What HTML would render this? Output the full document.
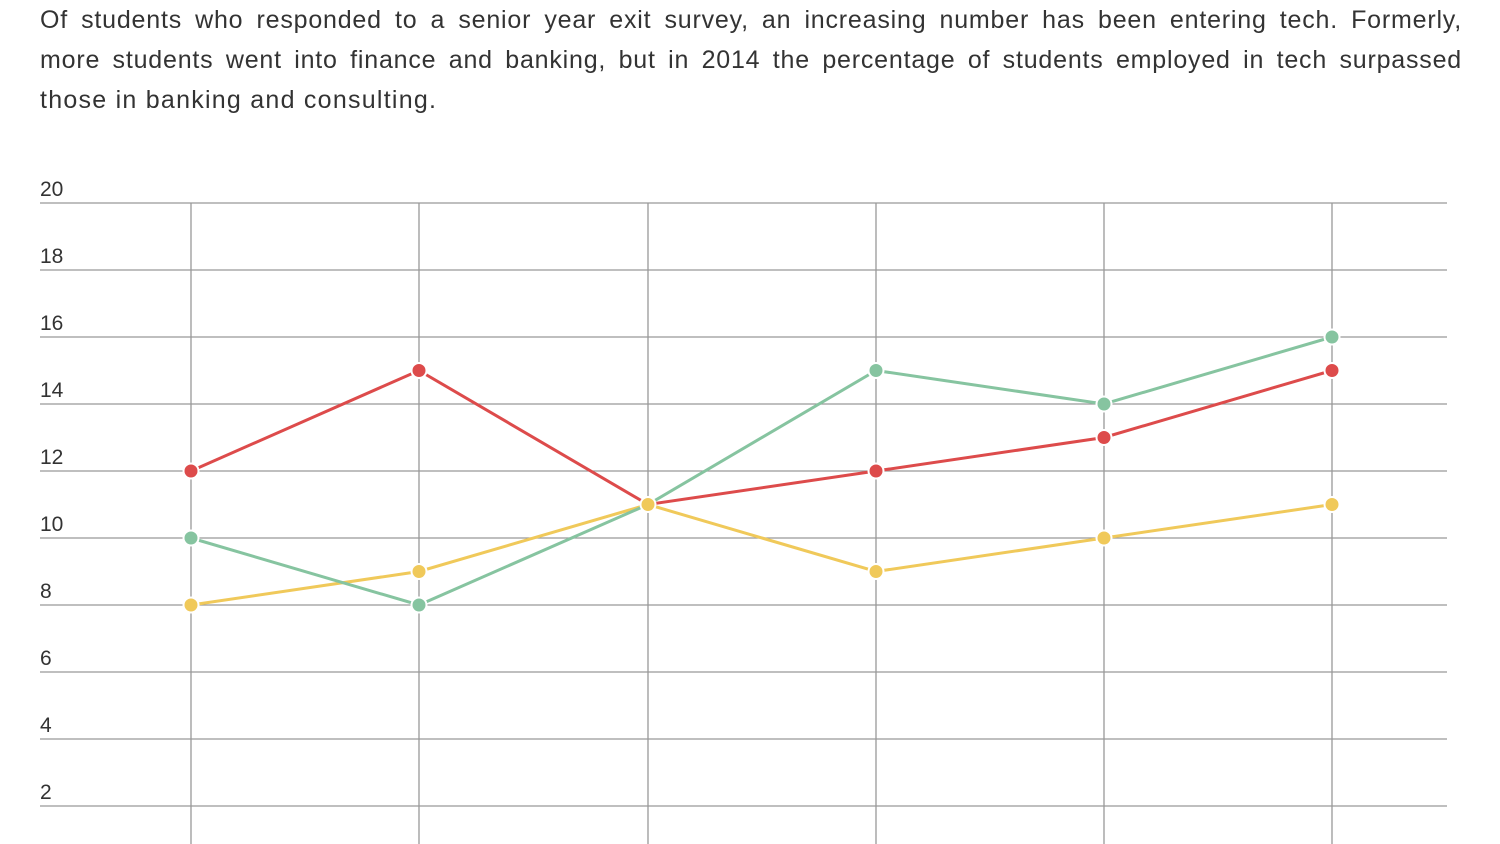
<!DOCTYPE html>
<html><head><style>
body{margin:0;background:#fff;width:1500px;height:844px;overflow:hidden;font-family:"Liberation Sans",sans-serif;}
.t{position:absolute;left:40px;width:1422px;margin:0;font-size:25px;line-height:40px;color:#333;letter-spacing:0.8px;white-space:nowrap}
.j{text-align:justify;text-align-last:justify;white-space:normal}
svg{position:absolute;left:0;top:0}
</style></head><body>
<div class="t j" style="top:0">Of students who responded to a senior year exit survey, an increasing number has been entering tech. Formerly,</div>
<div class="t j" style="top:40px">more students went into finance and banking, but in 2014 the percentage of students employed in tech surpassed</div>
<div class="t" style="top:80px;letter-spacing:1.25px">those in banking and consulting.</div>
<svg width="1500" height="844" font-family="Liberation Sans, sans-serif">
<g stroke="#999" stroke-width="1.3">
<line x1="40" x2="1447" y1="203" y2="203"/><line x1="40" x2="1447" y1="270" y2="270"/><line x1="40" x2="1447" y1="337" y2="337"/><line x1="40" x2="1447" y1="404" y2="404"/><line x1="40" x2="1447" y1="471" y2="471"/><line x1="40" x2="1447" y1="538" y2="538"/><line x1="40" x2="1447" y1="605" y2="605"/><line x1="40" x2="1447" y1="672" y2="672"/><line x1="40" x2="1447" y1="739" y2="739"/><line x1="40" x2="1447" y1="806" y2="806"/>
<line x1="191" x2="191" y1="203" y2="844"/><line x1="419" x2="419" y1="203" y2="844"/><line x1="648" x2="648" y1="203" y2="844"/><line x1="876" x2="876" y1="203" y2="844"/><line x1="1104" x2="1104" y1="203" y2="844"/><line x1="1332" x2="1332" y1="203" y2="844"/>
</g>
<g fill="#333" font-size="21">
<text x="40" y="196">20</text><text x="40" y="263">18</text><text x="40" y="330">16</text><text x="40" y="397">14</text><text x="40" y="464">12</text><text x="40" y="531">10</text><text x="40" y="598">8</text><text x="40" y="665">6</text><text x="40" y="732">4</text><text x="40" y="799">2</text>
</g>
<g fill="none" stroke-width="3">
<polyline stroke="#f0c95a" points="191,605 419,571.5 648,504.5 876,571.5 1104,538 1332,504.5"/>
<polyline stroke="#86c4a0" points="191,538 419,605 648,504.5 876,370.5 1104,404 1332,337"/>
<polyline stroke="#dd4b4b" points="191,471 419,370.5 648,504.5 876,471 1104,437.5 1332,370.5"/>
</g>
<g stroke="#fff" stroke-width="2">
<g fill="#86c4a0"><circle cx="191" cy="538" r="7.5"/><circle cx="419" cy="605" r="7.5"/><circle cx="876" cy="370.5" r="7.5"/><circle cx="1104" cy="404" r="7.5"/><circle cx="1332" cy="337" r="7.5"/></g>
<g fill="#dd4b4b"><circle cx="191" cy="471" r="7.5"/><circle cx="419" cy="370.5" r="7.5"/><circle cx="876" cy="471" r="7.5"/><circle cx="1104" cy="437.5" r="7.5"/><circle cx="1332" cy="370.5" r="7.5"/></g>
<g fill="#f0c95a"><circle cx="191" cy="605" r="7.5"/><circle cx="419" cy="571.5" r="7.5"/><circle cx="648" cy="504.5" r="7.5"/><circle cx="876" cy="571.5" r="7.5"/><circle cx="1104" cy="538" r="7.5"/><circle cx="1332" cy="504.5" r="7.5"/></g>
</g>
</svg>
</body></html>
